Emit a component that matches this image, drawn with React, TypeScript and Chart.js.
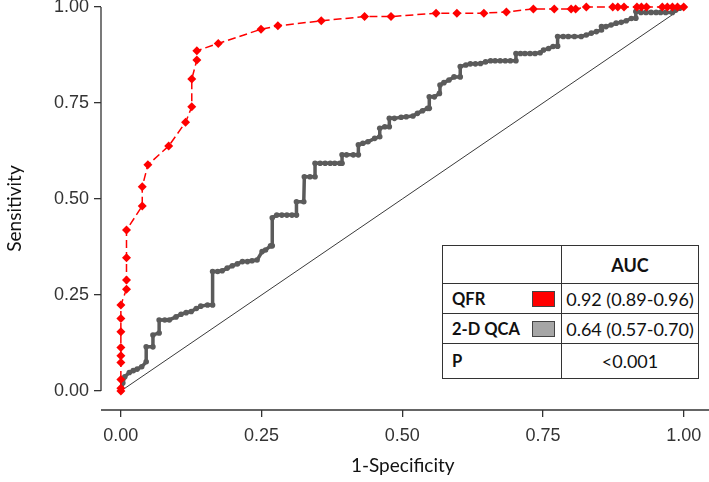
import React, { useEffect, useRef } from 'react';
import { Chart, registerables } from 'chart.js';

Chart.register(...registerables);

// QFR ROC points (1-specificity, sensitivity)
const qfrX = [0, 0, 0, 0, 0, 0, 0, 0, 0, 0.010, 0.010, 0.010, 0.010, 0.038, 0.038, 0.048, 0.085, 0.115, 0.126, 0.126, 0.135, 0.135, 0.173, 0.249, 0.279, 0.356, 0.433, 0.480, 0.560, 0.597, 0.645, 0.685, 0.733, 0.770, 0.800, 0.808, 0.827, 0.874, 0.883, 0.894, 0.917, 0.925, 0.934, 0.962, 0.971, 0.980, 0.989, 1.0];
const qfrY = [0, 0.007, 0.030, 0.074, 0.092, 0.113, 0.154, 0.189, 0.224, 0.265, 0.289, 0.347, 0.419, 0.482, 0.532, 0.589, 0.638, 0.700, 0.740, 0.8125, 0.862, 0.886, 0.905, 0.942, 0.951, 0.964, 0.975, 0.975, 0.984, 0.984, 0.984, 0.987, 0.995, 0.995, 0.995, 0.995, 1.0, 1.0, 1.0, 1.0, 1.0, 1.0, 1.0, 1.0, 1.0, 1.0, 1.0, 1.0];

// 2-D QCA ROC points
const qcaX = [0, 0.0035, 0.007, 0.015, 0.022, 0.029, 0.037, 0.045, 0.045, 0.057, 0.057, 0.068, 0.068, 0.078, 0.086, 0.098, 0.107, 0.116, 0.125, 0.134, 0.142, 0.154, 0.163, 0.163, 0.172, 0.180, 0.189, 0.198, 0.207, 0.216, 0.225, 0.233, 0.242, 0.251, 0.257, 0.266, 0.269, 0.269, 0.277, 0.286, 0.295, 0.304, 0.312, 0.312, 0.325, 0.326, 0.336, 0.345, 0.345, 0.354, 0.363, 0.372, 0.380, 0.389, 0.393, 0.393, 0.401, 0.413, 0.422, 0.422, 0.430, 0.439, 0.451, 0.460, 0.460, 0.469, 0.477, 0.477, 0.486, 0.498, 0.507, 0.519, 0.527, 0.536, 0.545, 0.548, 0.548, 0.557, 0.566, 0.567, 0.574, 0.583, 0.592, 0.603, 0.603, 0.613, 0.621, 0.630, 0.639, 0.648, 0.657, 0.665, 0.674, 0.683, 0.692, 0.702, 0.702, 0.710, 0.718, 0.727, 0.736, 0.745, 0.751, 0.760, 0.768, 0.776, 0.776, 0.786, 0.795, 0.806, 0.818, 0.827, 0.836, 0.845, 0.854, 0.854, 0.862, 0.871, 0.880, 0.889, 0.898, 0.907, 0.915, 0.915, 0.924, 0.933, 0.942, 0.951, 0.959, 0.968, 0.980, 0.986, 0.993, 1.0];
const qcaY = [0, 0.021, 0.037, 0.048, 0.053, 0.057, 0.063, 0.076, 0.115, 0.115, 0.146, 0.151, 0.185, 0.185, 0.185, 0.193, 0.200, 0.204, 0.207, 0.215, 0.221, 0.224, 0.224, 0.311, 0.311, 0.313, 0.320, 0.326, 0.331, 0.337, 0.337, 0.339, 0.341, 0.363, 0.367, 0.378, 0.378, 0.451, 0.458, 0.458, 0.458, 0.458, 0.458, 0.493, 0.493, 0.558, 0.558, 0.558, 0.593, 0.593, 0.593, 0.593, 0.593, 0.593, 0.593, 0.615, 0.615, 0.615, 0.615, 0.641, 0.645, 0.649, 0.658, 0.662, 0.684, 0.688, 0.688, 0.710, 0.710, 0.713, 0.714, 0.716, 0.723, 0.730, 0.736, 0.736, 0.766, 0.766, 0.775, 0.797, 0.803, 0.810, 0.818, 0.818, 0.845, 0.849, 0.852, 0.852, 0.853, 0.857, 0.860, 0.860, 0.860, 0.860, 0.860, 0.860, 0.879, 0.879, 0.879, 0.879, 0.879, 0.881, 0.888, 0.892, 0.897, 0.898, 0.923, 0.923, 0.923, 0.923, 0.923, 0.927, 0.932, 0.936, 0.940, 0.949, 0.949, 0.953, 0.958, 0.960, 0.964, 0.970, 0.971, 0.988, 0.986, 0.986, 0.986, 0.986, 0.986, 0.986, 0.986, 0.992, 0.997, 1.0];

// Reference diagonal
const refX = [0, 1];
const refY = [0, 1];

const tickValues = [0, 0.25, 0.5, 0.75, 1];
const xTitle = '1-Specificity';
const yTitle = 'Sensitivity';

const tableHeader = 'AUC';
const tableLabels = ['QFR', '2-D QCA', 'P'];
const tableValues = ['0.92 (0.89-0.96)', '0.64 (0.57-0.70)', '<0.001'];
const tableSwatches = ['#ff0000', '#a6a6a6', ''];

const toPoints = (xs: number[], ys: number[]) => xs.map((x, i) => ({ x, y: ys[i] }));

const axisLines = {
  id: 'axisLines',
  beforeDatasetsDraw(chart: any) {
    const { ctx, chartArea, scales } = chart;
    const y = scales.y;
    ctx.save();
    ctx.strokeStyle = '#333';
    ctx.lineWidth = 1.3;
    ctx.beginPath();
    ctx.moveTo(chartArea.left, y.getPixelForValue(1));
    ctx.lineTo(chartArea.left, y.getPixelForValue(0));
    ctx.moveTo(chartArea.left, chartArea.bottom);
    ctx.lineTo(chart.width, chartArea.bottom);
    ctx.stroke();
    ctx.restore();
  },
};

export default function App() {
  const ref = useRef<HTMLCanvasElement>(null);

  useEffect(() => {
    document.body.style.margin = '0';
    const canvas = ref.current!;
    const tickFont = { family: '"Liberation Sans", Arial, sans-serif', size: 18 };
    const titleFont = { family: 'Lato, "Open Sans", sans-serif', size: 19 };
    const chart = new Chart(canvas, {
      type: 'line',
      data: {
        datasets: [
          {
            label: 'QFR',
            data: toPoints(qfrX, qfrY),
            borderColor: '#ff0000',
            backgroundColor: '#ff0000',
            borderWidth: 1.5,
            borderDash: [8, 4],
            pointStyle: 'rectRot',
            pointRadius: 4.5,
            pointBorderWidth: 0,
            pointBackgroundColor: '#ff0000',
            tension: 0,
            clip: false,
            order: 0,
          },
          {
            label: '2-D QCA',
            data: toPoints(qcaX, qcaY),
            borderColor: '#5b5b5b',
            backgroundColor: '#5b5b5b',
            borderWidth: 3.5,
            pointRadius: 2.8,
            pointBorderWidth: 0,
            pointBackgroundColor: '#5b5b5b',
            tension: 0,
            clip: false,
            order: 1,
          },
          {
            label: 'Reference',
            data: toPoints(refX, refY),
            borderColor: '#3a3a3a',
            borderWidth: 1,
            pointRadius: 0,
            tension: 0,
            clip: false,
            order: 2,
          },
        ],
      },
      options: {
        animation: false,
        responsive: false,
        layout: { padding: { top: 7, left: 0, right: 0, bottom: 0 } },
        plugins: { legend: { display: false }, tooltip: { enabled: false } },
        scales: {
          x: {
            type: 'linear',
            min: -0.0353,
            max: 1.037,
            afterBuildTicks: (s: any) => { s.ticks = tickValues.map((v) => ({ value: v })); },
            afterFit: (s: any) => { s.height = 72; s.paddingLeft = 0; s.paddingRight = 0; },
            border: { display: false },
            grid: { display: true, drawOnChartArea: false, drawTicks: true, tickLength: 7, color: '#333', lineWidth: 1.3 },
            ticks: { font: tickFont, color: '#333', padding: 8, maxRotation: 0, autoSkip: false, callback: (v: any) => Number(v).toFixed(2) },
            title: { display: true, text: xTitle, font: titleFont, color: '#111', padding: { top: 4, bottom: 5 } },
          },
          y: {
            type: 'linear',
            min: -0.0495,
            max: 1.0,
            afterBuildTicks: (s: any) => { s.ticks = tickValues.map((v) => ({ value: v })); },
            afterFit: (s: any) => { s.width = 101; s.paddingTop = 0; s.paddingBottom = 0; },
            border: { display: false },
            grid: { display: true, drawOnChartArea: false, drawTicks: true, tickLength: 7, color: '#333', lineWidth: 1.3 },
            ticks: { font: tickFont, color: '#333', padding: 5, autoSkip: false, callback: (v: any) => Number(v).toFixed(2) },
            title: { display: true, text: yTitle, font: titleFont, color: '#111', padding: { top: 3, bottom: 4 } },
          },
        },
      },
      plugins: [axisLines],
    } as any);
    return () => chart.destroy();
  }, []);

  const tableFont = 'Lato, "Open Sans", sans-serif';
  const rowHeights = [38, 30, 30, 35];
  const cellBorder = '1px solid #333';

  return (
    <div style={{ position: 'fixed', left: 0, top: 0, width: 709, height: 482, background: '#fff' }}>
      <canvas ref={ref} width={709} height={482} style={{ display: 'block' }} />
      <table
        style={{
          position: 'absolute', left: 442, top: 245, width: 256, height: 133,
          borderCollapse: 'collapse', tableLayout: 'fixed', background: '#fff',
          fontFamily: tableFont, fontSize: 18, color: '#111', border: cellBorder,
        }}
      >
        <colgroup>
          <col style={{ width: 119 }} />
          <col style={{ width: 137 }} />
        </colgroup>
        <tbody>
          <tr style={{ height: rowHeights[0] }}>
            <td style={{ border: cellBorder, padding: 0 }} />
            <td style={{ border: cellBorder, padding: 0, textAlign: 'center', fontWeight: 700, fontSize: 18 }}>{tableHeader}</td>
          </tr>
          {tableLabels.map((lab, i) => (
            <tr key={lab} style={{ height: rowHeights[i + 1] }}>
              <td style={{ border: cellBorder, padding: '0 0 0 9px', fontWeight: 700, fontSize: 16.5, position: 'relative', whiteSpace: 'nowrap' }}>
                {lab}
                {tableSwatches[i] ? (
                  <span style={{ position: 'absolute', right: 6, top: '50%', marginTop: -8, width: 21, height: 14, background: tableSwatches[i], border: '1px solid #444' }} />
                ) : null}
              </td>
              <td style={{ border: cellBorder, padding: 0, textAlign: 'center', whiteSpace: 'nowrap' }}>{tableValues[i]}</td>
            </tr>
          ))}
        </tbody>
      </table>
    </div>
  );
}
